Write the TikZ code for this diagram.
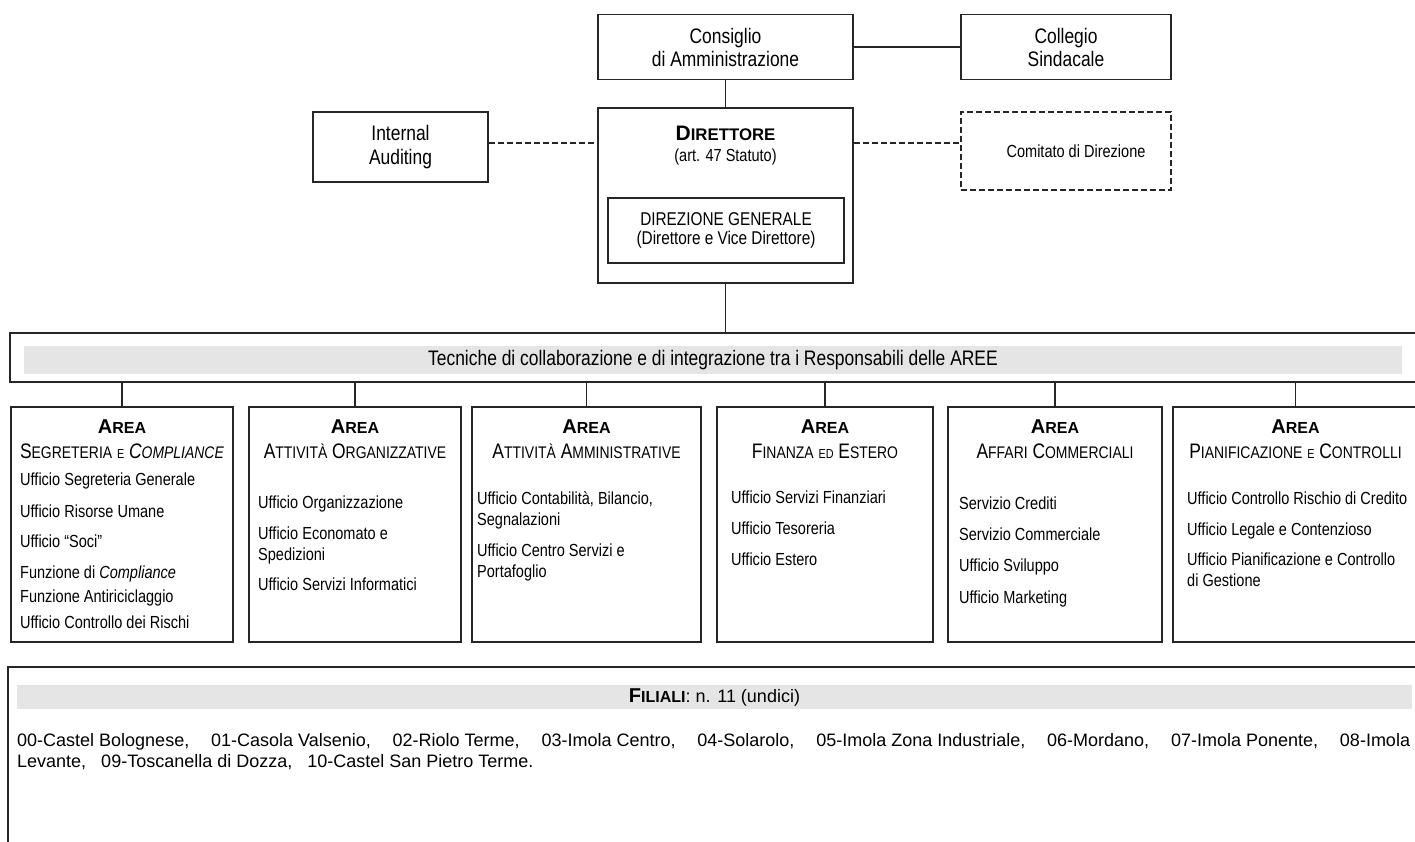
\documentclass[tikz,border=0pt]{standalone}
\usepackage{fontspec}
\usepackage{xfp}
\setmainfont{Liberation Sans}[FakeStretch=0.83]
\newfontfamily\widefont{Liberation Sans}
\usetikzlibrary{positioning}
\tikzstyle{box} = [draw=black!85, line width=1.6pt, rectangle, inner sep=0pt, align=center]
\tikzstyle{dashbox} = [box, dash pattern=on 6pt off 3pt]
\tikzstyle{band} = [fill=black!10, inner sep=0pt]
\tikzstyle{line} = [draw=black!85, line width=1.3pt]
\tikzstyle{list} = [anchor=north west, inner sep=0pt, align=left, font=\fontsize{17.5}{21}\selectfont]
\tikzstyle{areatitle} = [inner sep=0pt, font=\widefont\bfseries\fontsize{20}{24}\selectfont]
\tikzstyle{areasub} = [inner sep=0pt, font=\fontsize{21}{24}\selectfont]
\makeatletter
\newcommand\smc[1]{{\fontsize{\fpeval{0.8*\f@size}}{\f@baselineskip}\selectfont #1}}
\newcommand\tnc[1]{{\fontsize{\fpeval{0.62*\f@size}}{\f@baselineskip}\selectfont #1}}
\makeatother

\begin{document}
\begin{tikzpicture}[x=1pt,y=-1pt]
\useasboundingbox (0,0) rectangle (1415,841);

\node[box, minimum width=255pt, minimum height=65pt, font=\fontsize{21}{23}\selectfont] (cda) at (725.5,47) {Consiglio\\di Amministrazione};
\node[box, minimum width=210pt, minimum height=65pt, font=\fontsize{21}{23}\selectfont] (cs) at (1066,47) {Collegio\\Sindacale};
\node[box, minimum width=255pt, minimum height=175pt] (dir) at (725.5,195.5) {};
\node[inner sep=0pt, font=\widefont\bfseries\fontsize{21}{24}\selectfont] (dirname) at (725.5,133) {D\smc{IRETTORE}};
\node[inner sep=0pt, font=\fontsize{17.5}{20}\selectfont] (dirart) at (725.5,157) {(art. 47 Statuto)};
\node[box, minimum width=236pt, minimum height=65pt, font=\fontsize{18.5}{19}\selectfont] (dg) at (726,230.5) {DIREZIONE GENERALE\\(Direttore e Vice Direttore)};
\node[box, minimum width=175pt, minimum height=70pt, font=\fontsize{21}{24}\selectfont] (ia) at (400.5,147) {Internal\\Auditing};
\node[dashbox, minimum width=210pt, minimum height=78pt, font=\fontsize{17.5}{20}\selectfont] (cd) at (1066,151) {\hspace*{20pt}Comitato di Direzione};

\coordinate (dl) at ([yshift=4pt]ia.east);
\draw[line] (cda.east) -- (cs.west);
\draw[line] (cda.south) -- (dir.north);
\draw[line, dash pattern=on 6pt off 3pt] (dl) -- (dl -| dir.west);
\draw[line, dash pattern=on 6pt off 3pt] (dl -| dir.east) -- (dl -| cd.west);

% responsabili
\node[box, minimum width=1415pt, minimum height=49pt] (tech) at (717.5,357.5) {};
\node[band, minimum width=1378pt, minimum height=28pt, font=\fontsize{21}{24}\selectfont] (techband) at (713,360) {Tecniche di collaborazione e di integrazione tra i Responsabili delle AREE};
\draw[line] (dir.south) -- (dir.south |- tech.north);

% aree
\foreach \n/\cx/\w in {a1/122/222, a2/355/212, a3/586.5/229, a4/825/216, a5/1055/214, a6/1295.5/245} {
  \node[box, minimum width=\w pt, minimum height=235pt] (\n) at (\cx,524.5) {};
  \node[areatitle] (\n-t) at (\cx,427) {A\smc{REA}};
  \draw[line] (\n.north) -- (\n.north |- tech.south);
}
\node[areasub] (a1-s) at (122,451) {S\smc{EGRETERIA} \tnc{E} \textit{C\smc{OMPLIANCE}}};
\node[areasub] (a2-s) at (355,451) {A\smc{TTIVITÀ} O\smc{RGANIZZATIVE}};
\node[areasub] (a3-s) at (586.5,451) {A\smc{TTIVITÀ} A\smc{MMINISTRATIVE}};
\node[areasub] (a4-s) at (825,451) {F\smc{INANZA} \tnc{ED} E\smc{STERO}};
\node[areasub] (a5-s) at (1055,451) {A\smc{FFARI} C\smc{OMMERCIALI}};
\node[areasub] (a6-s) at (1295.5,451) {P\smc{IANIFICAZIONE} \tnc{E} C\smc{ONTROLLI}};

\node[list] (l1) at (20,473) {Ufficio Segreteria Generale\\[11pt] Ufficio Risorse Umane\\[9pt] Ufficio “Soci”\\[10pt] Funzione di \textit{Compliance}\\[3pt] Funzione Antiriciclaggio\\[5pt] Ufficio Controllo dei Rischi};
\node[list] (l2) at (258,496) {Ufficio Organizzazione\\[10pt] Ufficio Economato e\\ Spedizioni\\[9pt] Ufficio Servizi Informatici};
\node[list] (l3) at (477,491) {Ufficio Contabilità, Bilancio,\\ Segnalazioni\\[10pt] Ufficio Centro Servizi e\\ Portafoglio};
\node[list] (l4) at (731,491) {Ufficio Servizi Finanziari\\[10pt] Ufficio Tesoreria\\[10pt] Ufficio Estero};
\node[list] (l5) at (959,497) {Servizio Crediti\\[10pt] Servizio Commerciale\\[10pt] Ufficio Sviluppo\\[11pt] Ufficio Marketing};
\node[list] (l6) at (1187,492) {Ufficio Controllo Rischio di Credito\\[10pt] Ufficio Legale e Contenzioso\\[9pt] Ufficio Pianificazione e Controllo\\ di Gestione};

% filiali
\node[box, minimum width=1417pt, minimum height=190pt] (fil) at (716.5,762) {};
\node[band, minimum width=1395pt, minimum height=24.5pt, font=\widefont\fontsize{18}{22}\selectfont] (filband) at (714.5,697) {{\bfseries\fontsize{20}{24}\selectfont F\smc{ILIALI}}: n. 11 (undici)};
\node[anchor=north west, inner sep=0pt, align=left, font=\widefont\fontsize{18}{21}\selectfont] (fillist) at (17,733) {\hbox to 1393pt{00-Castel Bolognese,\hfill 01-Casola Valsenio,\hfill 02-Riolo Terme,\hfill 03-Imola Centro,\hfill 04-Solarolo,\hfill 05-Imola Zona Industriale,\hfill 06-Mordano,\hfill 07-Imola Ponente,\hfill 08-Imola}\\ Levante,\ \ \ 09-Toscanella di Dozza,\ \ \ 10-Castel San Pietro Terme.};
\end{tikzpicture}
\end{document}
